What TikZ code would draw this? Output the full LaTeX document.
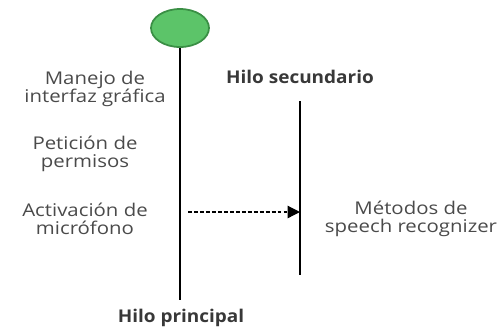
\documentclass[tikz,border=0pt]{standalone}
\usepackage{fontspec}
\setmainfont{Open Sans}
\usepackage{xcolor}
\usetikzlibrary{arrows.meta,positioning,shapes.geometric}
\definecolor{startgreen}{HTML}{5CC469}
\definecolor{startedge}{HTML}{3A8F45}
\definecolor{labelgray}{HTML}{4A4A4A}

\begin{document}
\begin{tikzpicture}[x=0.02cm,y=-0.02cm,
    lbl/.style={align=center, text=labelgray, font=\fontsize{10}{10.3}\selectfont\addfontfeature{FakeStretch=1.16}},
    hilo/.style={text=labelgray!75!black, font=\fontsize{10}{12}\selectfont\bfseries\addfontfeature{FakeStretch=1.08}},
    vida/.style={line width=1.1pt}]
            \useasboundingbox (0,0) rectangle (500,326);
            \node[ellipse, draw=startedge, fill=startgreen, line width=1pt, inner sep=0pt, minimum width=1.16cm, minimum height=0.76cm] at (180,28) (inicio) {};
            \coordinate (finp) at (180,300);
            \coordinate (inis) at (300,101);
            \coordinate (fins) at (300,275);
            \draw[vida] (inicio.south) -- (finp);
            \draw[vida] (inis) -- (fins);
            \node[lbl] at (95,89) (manejo) {Manejo de\\interfaz gráfica};
            \node[lbl] at (85,154) (permisos) {Petición de\\permisos};
            \node[lbl] at (85,219) (mic) {Activación de\\micrófono};
            \node[lbl] at (411,219) (metodos) {Métodos de\\speech recognizer};
            \node[hilo] at (300,77) (hsec) {Hilo secundario};
            \node[hilo] at (181,318) (hprin) {Hilo principal};
            \coordinate (llamada) at (188,212);
            \draw[dash pattern=on 2.2pt off 1.2pt, line width=0.7pt, -{Triangle[length=7pt,width=7pt]}] (llamada) -- (llamada -| inis);
        \end{tikzpicture}
\end{document}
